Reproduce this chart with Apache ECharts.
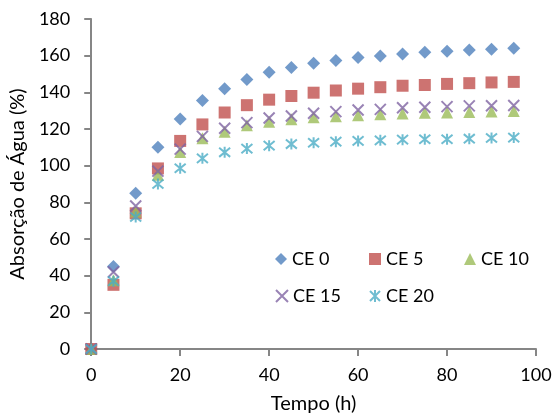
<!DOCTYPE html>
<html>
<head>
<meta charset="utf-8">
<script src="https://cdn.jsdelivr.net/npm/echarts@6/dist/echarts.min.js"></script>
<style>
  html, body { margin: 0; padding: 0; background: #fff; }
  #chart { width: 556px; height: 419px; }
</style>
</head>
<body>
<div id="chart"></div>
<script>
// tempo (h)
var tempo = [0, 5, 10, 15, 20, 25, 30, 35, 40, 45, 50, 55, 60, 65, 70, 75, 80, 85, 90, 95];
// absorção de água (%)
var ce0  = [0, 45, 85, 110, 125.5, 135.5, 142, 147, 151, 153.5, 155.8, 157.3, 159, 159.8, 160.9, 161.8, 162.4, 163.1, 163.5, 164];
var ce5  = [0, 35, 74, 98.5, 113.5, 122.5, 129, 133, 136, 138, 139.8, 141, 142, 142.8, 143.6, 144, 144.6, 145, 145.4, 145.7];
var ce10 = [0, 37.5, 75, 95, 107.5, 115, 118.5, 122, 124, 125.3, 126.4, 127, 127.5, 128, 128.4, 128.8, 129, 129.3, 129.6, 129.8];
var ce15 = [0, 42, 78, 97, 109, 116, 120.4, 123.5, 126, 127.1, 128.6, 129.5, 130.4, 130.7, 131.6, 131.9, 132.2, 132.6, 132.7, 132.8];
var ce20 = [0, 37, 72, 90, 98.6, 104, 107.3, 109.3, 110.9, 111.8, 112.5, 113.1, 113.5, 113.8, 114.2, 114.4, 114.4, 114.7, 115.1, 115.3];
var yTicks = [0, 20, 40, 60, 80, 100, 120, 140, 160, 180];
var xTicks = [0, 20, 40, 60, 80, 100];

var chart = echarts.init(document.getElementById('chart'));

function pts(ys) {
  return tempo.map(function (t, i) { return [t, ys[i]]; });
}

var font = 'Lato';
var axisGrey = '#868686';
var xPath = 'path://M0,0L10,10M10,0L0,10';
var starPath = 'path://M0,0L10,10M10,0L0,10M5,-1L5,11';

var series = [
  { name: 'CE 0',  data: pts(ce0),  symbol: 'diamond',  symbolSize: 13, itemStyle: { color: '#4F81BD' } },
  { name: 'CE 5',  data: pts(ce5),  symbol: 'rect',     symbolSize: 12, itemStyle: { color: '#C0504D' } },
  { name: 'CE 10', data: pts(ce10), symbol: 'triangle', symbolSize: 12, itemStyle: { color: '#9BBB59' } },
  { name: 'CE 15', data: pts(ce15), symbol: xPath,      symbolSize: 11,
    itemStyle: { color: 'rgba(0,0,0,0)', borderColor: '#8064A2', borderWidth: 2 } },
  { name: 'CE 20', data: pts(ce20), symbol: starPath,   symbolSize: 11,
    itemStyle: { color: 'rgba(0,0,0,0)', borderColor: '#4BACC6', borderWidth: 2 } }
].map(function (s) {
  s.type = 'scatter';
  return s;
});

// legenda em duas linhas dentro da área do gráfico
var legendPos = [
  { name: 'CE 0',  left: 275, top: 250 },
  { name: 'CE 5',  left: 369, top: 250 },
  { name: 'CE 10', left: 464, top: 250 },
  { name: 'CE 15', left: 275, top: 287 },
  { name: 'CE 20', left: 369, top: 287 }
];

var option = {
  backgroundColor: '#fff',
  animation: false,
  textStyle: { fontFamily: font },
  grid: { left: 90, right: 20, top: 19, bottom: 70 },
  legend: legendPos.map(function (p) {
    return {
      data: [p.name],
      left: p.left,
      top: p.top,
      padding: 0,
      itemWidth: 12,
      itemHeight: 12,
      textStyle: { fontFamily: font, fontSize: 18, color: '#000' }
    };
  }),
  xAxis: {
    type: 'value',
    min: 0, max: 100, interval: 20,
    name: 'Tempo (h)',
    nameLocation: 'middle',
    nameGap: 45,
    nameTextStyle: { fontFamily: font, fontSize: 20, color: '#000' },
    axisLine: { show: true, lineStyle: { color: axisGrey, width: 2 } },
    axisTick: { show: true, length: 7, inside: false, lineStyle: { color: axisGrey, width: 2 } },
    axisLabel: {
      margin: 17, fontFamily: font, fontSize: 18, color: '#000',
      formatter: function (v) { return xTicks.indexOf(v) >= 0 ? String(v) : ''; }
    },
    splitLine: { show: false }
  },
  yAxis: {
    type: 'value',
    min: 0, max: 180, interval: 20,
    name: 'Absorção de Água (%)',
    nameLocation: 'middle',
    nameGap: 62,
    nameTextStyle: { fontFamily: font, fontSize: 20, color: '#000' },
    axisLine: { show: true, lineStyle: { color: axisGrey, width: 2 } },
    axisTick: { show: true, length: 7, inside: false, lineStyle: { color: axisGrey, width: 2 } },
    axisLabel: {
      margin: 21, fontFamily: font, fontSize: 18, color: '#000',
      formatter: function (v) { return yTicks.indexOf(v) >= 0 ? String(v) : ''; }
    },
    splitLine: { show: false }
  },
  series: series
};

chart.setOption(option);
</script>
</body>
</html>
